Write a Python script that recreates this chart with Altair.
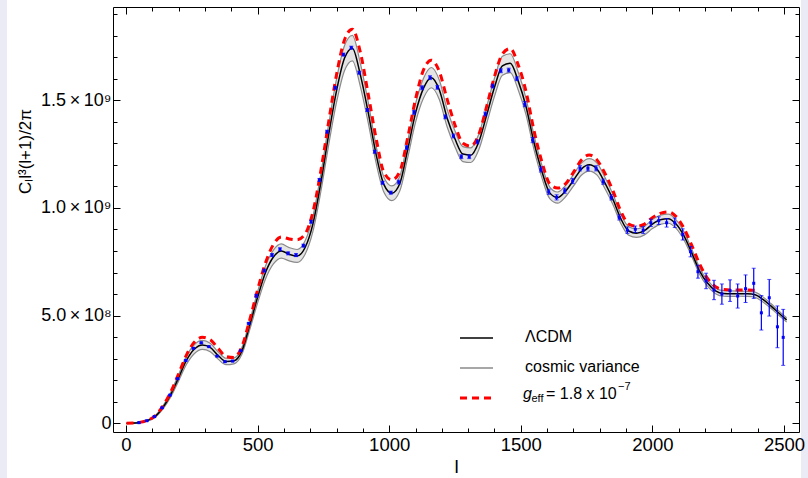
import altair as alt
import pandas as pd

# ---------------- data (values in units of 1e9) ----------------
l_grid = [2, 30, 50, 80, 110, 140, 170, 200, 230, 260, 290, 320, 350, 380, 410, 440, 470,
          500, 530, 560, 590, 620, 650, 680, 710, 740, 770, 800, 830, 860, 890, 920, 950,
          980, 1010, 1040, 1070, 1100, 1130, 1160, 1190, 1220, 1250, 1280, 1310, 1340, 1370,
          1400, 1430, 1460, 1490, 1520, 1550, 1580, 1610, 1640, 1670, 1700, 1730, 1760, 1790,
          1820, 1850, 1880, 1910, 1940, 1970, 2000, 2030, 2060, 2090, 2120, 2150, 2180, 2210,
          2240, 2270, 2300, 2330, 2360, 2390, 2420, 2450, 2480, 2510]

lcdm = [0.000, 0.001, 0.004, 0.012, 0.031, 0.073, 0.133, 0.212, 0.293, 0.345, 0.364, 0.352,
        0.315, 0.287, 0.290, 0.335, 0.455, 0.585, 0.700, 0.772, 0.800, 0.785, 0.777, 0.815,
        0.925, 1.115, 1.340, 1.545, 1.695, 1.742, 1.620, 1.445, 1.250, 1.108, 1.068, 1.112,
        1.270, 1.440, 1.555, 1.605, 1.550, 1.418, 1.320, 1.250, 1.245, 1.305, 1.430, 1.560,
        1.660, 1.672, 1.590, 1.470, 1.305, 1.170, 1.070, 1.048, 1.078, 1.128, 1.180, 1.200,
        1.180, 1.115, 1.040, 0.950, 0.893, 0.883, 0.895, 0.925, 0.945, 0.950, 0.925, 0.870,
        0.790, 0.705, 0.650, 0.615, 0.603, 0.602, 0.602, 0.601, 0.597, 0.575, 0.545, 0.512,
        0.480]

cv_half = [0.000, 0.001, 0.001, 0.002, 0.004, 0.007, 0.011, 0.015, 0.019, 0.021, 0.021, 0.020,
           0.017, 0.015, 0.014, 0.016, 0.021, 0.026, 0.030, 0.032, 0.033, 0.031, 0.030, 0.031,
           0.035, 0.041, 0.048, 0.054, 0.058, 0.059, 0.054, 0.048, 0.040, 0.035, 0.034, 0.034,
           0.039, 0.043, 0.046, 0.047, 0.045, 0.041, 0.037, 0.035, 0.034, 0.036, 0.039, 0.042,
           0.044, 0.044, 0.041, 0.038, 0.033, 0.029, 0.027, 0.026, 0.026, 0.027, 0.028, 0.029,
           0.028, 0.026, 0.024, 0.022, 0.020, 0.020, 0.020, 0.021, 0.021, 0.021, 0.020, 0.019,
           0.017, 0.015, 0.014, 0.013, 0.013, 0.013, 0.012, 0.012, 0.012, 0.012, 0.011, 0.010,
           0.010]

geff_l = l_grid[:81]
geff = [0.000, 0.001, 0.004, 0.013, 0.034, 0.080, 0.145, 0.230, 0.318, 0.377, 0.399, 0.388,
        0.348, 0.310, 0.305, 0.355, 0.480, 0.620, 0.745, 0.830, 0.865, 0.856, 0.852, 0.878,
        0.980, 1.170, 1.400, 1.620, 1.780, 1.830, 1.725, 1.530, 1.325, 1.165, 1.130, 1.168,
        1.325, 1.505, 1.640, 1.686, 1.635, 1.505, 1.385, 1.300, 1.287, 1.340, 1.470, 1.610,
        1.715, 1.740, 1.665, 1.540, 1.360, 1.215, 1.112, 1.092, 1.112, 1.165, 1.222, 1.246,
        1.222, 1.160, 1.080, 0.985, 0.925, 0.915, 0.925, 0.955, 0.975, 0.982, 0.960, 0.905,
        0.825, 0.738, 0.672, 0.634, 0.621, 0.619, 0.619, 0.619, 0.618]

pts_l = [49, 79, 108, 137, 167, 196, 227, 256, 286, 315, 346, 376, 405, 436, 466, 495, 525,
         555, 585, 616, 646, 674, 703, 735, 764, 795, 826, 856, 886, 917, 945, 975, 1006,
         1036, 1066, 1094, 1125, 1155, 1183, 1213, 1244, 1274, 1304, 1335, 1365, 1393, 1424,
         1454, 1485, 1515, 1545, 1576, 1606, 1636, 1667, 1697, 1725, 1755, 1786, 1813, 1844,
         1874, 1905, 1935, 1965, 1994, 2024, 2054, 2085, 2115, 2145, 2173, 2204, 2234, 2264,
         2295, 2324, 2354, 2385, 2414, 2444, 2475, 2497]
pts_v = [0.003, 0.012, 0.031, 0.072, 0.131, 0.207, 0.292, 0.348, 0.374, 0.356, 0.312, 0.286,
         0.289, 0.337, 0.464, 0.592, 0.709, 0.781, 0.808, 0.789, 0.781, 0.825, 0.936, 1.130,
         1.354, 1.558, 1.712, 1.744, 1.628, 1.455, 1.261, 1.117, 1.071, 1.120, 1.280, 1.444,
         1.558, 1.605, 1.560, 1.423, 1.334, 1.238, 1.238, 1.307, 1.436, 1.566, 1.637, 1.640,
         1.600, 1.482, 1.315, 1.179, 1.075, 1.049, 1.080, 1.125, 1.184, 1.184, 1.184, 1.122,
         1.049, 0.956, 0.897, 0.901, 0.897, 0.931, 0.941, 0.931, 0.931, 0.877, 0.797, 0.704,
         0.661, 0.619, 0.600, 0.616, 0.591, 0.625, 0.650, 0.513, 0.583, 0.448, 0.399]
pts_err = [0.003] * 15 + [0.007] * 18 + [0.009] * 16 + [0.012] * 13 + \
          [0.015, 0.015, 0.016, 0.017, 0.018, 0.020, 0.022, 0.026, 0.024, 0.030, 0.036, 0.045,
           0.047, 0.050, 0.056, 0.064, 0.070, 0.080, 0.085, 0.097, 0.130]

x_major = [0, 500, 1000, 1500, 2000, 2500]
x_minor = list(range(0, 2501, 100))
y_major = [0, 0.5, 1.0, 1.5]
y_major_labels = ["0", "5.0\u2009×\u200910⁸", "1.0\u2009×\u200910⁹", "1.5\u2009×\u200910⁹"]
y_minor = [round(0.1 * i, 1) for i in range(20)]

legend_labels = ["ΛCDM", "cosmic variance"]

# ---------------- frames ----------------
curve = pd.DataFrame({
    "l": l_grid,
    "lcdm": lcdm,
    "upper": [a + b for a, b in zip(lcdm, cv_half)],
    "lower": [a - b for a, b in zip(lcdm, cv_half)],
})
red_df = pd.DataFrame({"l": geff_l, "g": geff})
pts = pd.DataFrame({
    "l": pts_l,
    "v": pts_v,
    "lo": [v - e for v, e in zip(pts_v, pts_err)],
    "hi": [v + e for v, e in zip(pts_v, pts_err)],
})
one = pd.DataFrame({"k": [0]})

FONT = "Liberation Sans"
W, H = 686, 425

x_scale = alt.Scale(domain=[-49.4, 2557], nice=False, zero=False, padding=0)
y_scale = alt.Scale(domain=[-0.0404, 1.933], nice=False, zero=False, padding=0)

ylab_expr = ""
for v, s in zip(y_major, y_major_labels):
    ylab_expr += f"abs(datum.value - {v}) < 1e-6 ? '{s}' : "
ylab_expr += "''"

common = dict(domain=False, grid=False, tickColor="black", tickWidth=1, zindex=2)
frame = dict(domain=True, domainColor="black", domainWidth=1, ticks=False, labels=False,
             grid=False, offset=0, zindex=2)

ax_bottom_major = alt.Axis(orient="bottom", values=x_major, offset=-7, tickSize=7,
                           format="d", labelFont=FONT, labelFontSize=18.5,
                           labelColor="black", labelPadding=3, labelFlush=False,
                           labelOverlap=False, titleFont=FONT, titleFontSize=19,
                           titleFontWeight="normal", titleColor="black", titleY=32, **common)
ax_bottom_minor = alt.Axis(orient="bottom", values=x_minor, offset=-4, tickSize=4,
                           labels=False, **common)
ax_top_major = alt.Axis(orient="top", values=x_major, offset=-7, tickSize=7,
                        labels=False, **common)
ax_top_minor = alt.Axis(orient="top", values=x_minor, offset=-4, tickSize=4,
                        labels=False, **common)
ax_bottom_frame = alt.Axis(orient="bottom", **frame)
ax_top_frame = alt.Axis(orient="top", **frame)

ax_left_major = alt.Axis(orient="left", values=y_major, offset=-7, tickSize=7,
                         labelExpr=ylab_expr, labelFont=FONT, labelFontSize=18,
                         labelColor="black", labelPadding=2, labelFlush=False,
                         labelOverlap=False, titleFont=FONT, titleFontSize=17,
                         titleFontWeight="normal", titleColor="black",
                         titleAlign="center", titleX=-86, titleY=144, **common)
ax_left_minor = alt.Axis(orient="left", values=y_minor, offset=-4, tickSize=4,
                         labels=False, **common)
ax_right_major = alt.Axis(orient="right", values=y_major, offset=-7, tickSize=7,
                          labels=False, **common)
ax_right_minor = alt.Axis(orient="right", values=y_minor, offset=-4, tickSize=4,
                          labels=False, **common)
ax_left_frame = alt.Axis(orient="left", **frame)
ax_right_frame = alt.Axis(orient="right", **frame)

# white page area on a lavender margin
page = alt.Chart(one).mark_rect(color="white", clip=False).encode(
    x=alt.value(-106), x2=alt.value(688), y=alt.value(-7), y2=alt.value(471))

band = alt.Chart(curve).mark_area(color="#e4e4e4", interpolate="monotone").encode(
    x=alt.X("l:Q", scale=x_scale, axis=ax_bottom_major, title="l"),
    y=alt.Y("lower:Q", scale=y_scale, axis=ax_left_major, title="Cₗl³(l+1)/2π"),
    y2="upper:Q",
)
upper_line = alt.Chart(curve).mark_line(color="#8a8a8a", strokeWidth=1.2,
                                        interpolate="monotone").encode(
    x=alt.X("l:Q", scale=x_scale, axis=ax_bottom_minor, title=None),
    y=alt.Y("upper:Q", scale=y_scale, axis=ax_left_minor, title=None),
)
lower_line = alt.Chart(curve).mark_line(color="#8a8a8a", strokeWidth=1.2,
                                        interpolate="monotone").encode(
    x=alt.X("l:Q", scale=x_scale, axis=ax_top_major, title=None),
    y=alt.Y("lower:Q", scale=y_scale, axis=ax_right_major, title=None),
)
black_line = alt.Chart(curve).mark_line(color="black", strokeWidth=1.5,
                                        interpolate="monotone").encode(
    x=alt.X("l:Q", scale=x_scale, axis=ax_top_minor, title=None),
    y=alt.Y("lcdm:Q", scale=y_scale, axis=ax_right_minor, title=None),
)
red_line = alt.Chart(red_df).mark_line(color="#ff0000", strokeWidth=3, strokeDash=[7, 5],
                                       interpolate="monotone").encode(
    x=alt.X("l:Q", scale=x_scale, axis=ax_bottom_frame, title=None),
    y=alt.Y("g:Q", scale=y_scale, axis=ax_left_frame, title=None),
)
err = alt.Chart(pts).mark_rule(color="#0000ff", strokeWidth=1.2).encode(
    x=alt.X("l:Q", scale=x_scale, axis=ax_top_frame, title=None),
    y=alt.Y("lo:Q", scale=y_scale, axis=ax_right_frame, title=None),
    y2="hi:Q",
)
cap_lo = alt.Chart(pts).mark_tick(color="#0000ff", orient="horizontal", size=4,
                                  thickness=1).encode(
    x=alt.X("l:Q", scale=x_scale, axis=None),
    y=alt.Y("lo:Q", scale=y_scale, axis=None),
)
cap_hi = alt.Chart(pts).mark_tick(color="#0000ff", orient="horizontal", size=4,
                                  thickness=1).encode(
    x=alt.X("l:Q", scale=x_scale, axis=None),
    y=alt.Y("hi:Q", scale=y_scale, axis=None),
)
dots = alt.Chart(pts).mark_square(color="#0000ff", size=9, opacity=1).encode(
    x=alt.X("l:Q", scale=x_scale, axis=None),
    y=alt.Y("v:Q", scale=y_scale, axis=None),
)

# ---------------- legend ----------------
LX0, LX1, TX = 347, 380, 412
rows = [331, 361, 391]
leg = []
leg.append(alt.Chart(one).mark_rule(color="black", strokeWidth=1.6).encode(
    x=alt.value(LX0), x2=alt.value(LX1), y=alt.value(rows[0])))
leg.append(alt.Chart(one).mark_rule(color="#8a8a8a", strokeWidth=1.6).encode(
    x=alt.value(LX0), x2=alt.value(LX1), y=alt.value(rows[1])))
leg.append(alt.Chart(one).mark_rule(color="#ff0000", strokeWidth=3, strokeDash=[7, 5]).encode(
    x=alt.value(LX0), x2=alt.value(LX1), y=alt.value(rows[2])))
for i, lab in enumerate(legend_labels):
    leg.append(alt.Chart(one).mark_text(align="left", baseline="middle", font=FONT,
                                        fontSize=16, color="black").encode(
        x=alt.value(TX), y=alt.value(rows[i] - 1), text=alt.value(lab)))
leg.append(alt.Chart(one).mark_text(align="left", baseline="middle", font=FONT, fontSize=16,
                                    fontStyle="italic", color="black").encode(
    x=alt.value(TX - 2), y=alt.value(rows[2] - 4), text=alt.value("g")))
leg.append(alt.Chart(one).mark_text(align="left", baseline="middle", font=FONT, fontSize=11,
                                    color="black").encode(
    x=alt.value(TX + 6.5), y=alt.value(rows[2] + 1), text=alt.value("eff")))
leg.append(alt.Chart(one).mark_text(align="left", baseline="middle", font=FONT, fontSize=16,
                                    color="black").encode(
    x=alt.value(TX + 21), y=alt.value(rows[2] - 4), text=alt.value("= 1.8 x 10")))
leg.append(alt.Chart(one).mark_text(align="left", baseline="middle", font=FONT, fontSize=11,
                                    color="black").encode(
    x=alt.value(TX + 93), y=alt.value(rows[2] - 11), text=alt.value("−7")))

chart = alt.layer(
    page, band, upper_line, lower_line, black_line, red_line, err, cap_lo, cap_hi, dots,
    *leg
).resolve_axis(x="independent", y="independent").properties(
    width=W, height=H,
    autosize=alt.AutoSizeParams(type="none"),
    padding={"left": 113, "top": 7, "right": 9, "bottom": 46},
    background="#ebebf5",
).configure_view(stroke="transparent")

chart.save("out.html", embed_options={"renderer": "svg", "actions": False})
